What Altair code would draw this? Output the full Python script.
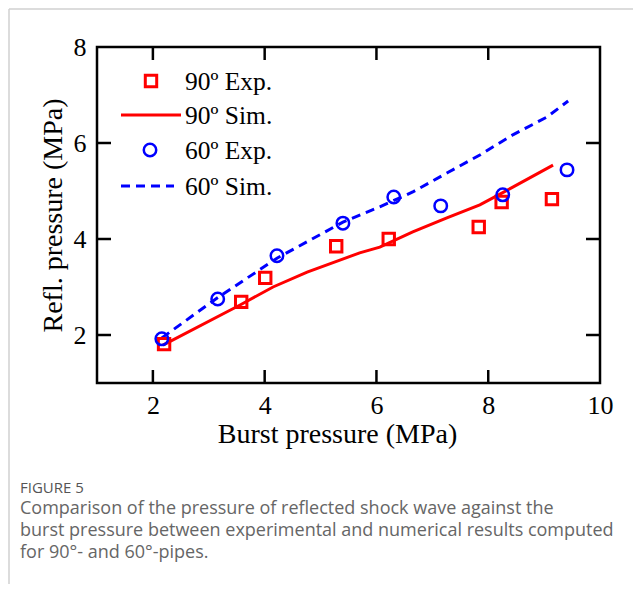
import altair as alt
import pandas as pd

# ---- data ----
exp90_x = [2.20, 3.58, 4.01, 5.28, 6.22, 7.83, 8.24, 9.14]
exp90_y = [1.81, 2.69, 3.19, 3.85, 4.00, 4.25, 4.77, 4.83]
exp60_x = [2.16, 3.16, 4.22, 5.40, 6.31, 7.15, 8.26, 9.41]
exp60_y = [1.92, 2.75, 3.65, 4.33, 4.875, 4.69, 4.92, 5.44]
sim90_x = [2.18, 3.56, 4.15, 4.76, 5.70, 6.06, 6.65, 7.26, 7.85, 8.44, 9.16]
sim90_y = [1.79, 2.625, 3.00, 3.31, 3.71, 3.83, 4.15, 4.44, 4.71, 5.08, 5.54]
sim60_x = [2.16, 3.15, 4.22, 5.40, 6.06, 6.65, 7.26, 7.85, 8.44, 9.05, 9.43]
sim60_y = [1.94, 2.77, 3.60, 4.35, 4.67, 4.98, 5.375, 5.75, 6.17, 6.54, 6.875]

x_ticks = [2, 4, 6, 8, 10]
y_ticks = [2, 4, 6, 8]
x_inner_ticks = [2, 4, 6, 8]
y_inner_ticks = [2, 4, 6]
legend_labels = ["90º Exp.", "90º Sim.", "60º Exp.", "60º Sim."]
x_title = "Burst pressure (MPa)"
y_title = "Refl. pressure (MPa)"
fig_label = "FIGURE 5"
caption = ("Comparison of the pressure of reflected shock wave against the\n"
           "burst pressure between experimental and numerical results computed\n"
           "for 90°- and 60°-pipes.")

W, H = 503, 336
RED = "#ff0000"
BLUE = "#0000ff"
SERIF = "Liberation Serif"
SANS = "Open Sans"

xs = alt.Scale(domain=[1, 10], nice=False, zero=False)
ys = alt.Scale(domain=[1, 8], nice=False, zero=False)

xenc = alt.X("x:Q", scale=xs, axis=alt.Axis(
    values=x_ticks, format="d", title=x_title, domain=False, ticks=False, grid=False,
    labelFont=SERIF, labelFontSize=26, labelColor="black", labelPadding=9,
    labelOverlap=False, labelFlush=False,
    titleFont=SERIF, titleFontSize=28, titleFontWeight="normal", titleColor="black",
    titlePadding=2, titleX=240))
yenc = alt.Y("y:Q", scale=ys, axis=alt.Axis(
    values=y_ticks, format="d", title=y_title, domain=False, ticks=False, grid=False,
    labelFont=SERIF, labelFontSize=26, labelColor="black", labelPadding=11,
    labelOverlap=False, labelFlush=False,
    titleFont=SERIF, titleFontSize=28, titleFontWeight="normal", titleColor="black",
    titlePadding=6))

df90e = pd.DataFrame({"x": exp90_x, "y": exp90_y})
df60e = pd.DataFrame({"x": exp60_x, "y": exp60_y})
df90s = pd.DataFrame({"x": sim90_x, "y": sim90_y})
df60s = pd.DataFrame({"x": sim60_x, "y": sim60_y})

line90 = alt.Chart(df90s).mark_line(color=RED, strokeWidth=3).encode(x=xenc, y=yenc)
line60 = alt.Chart(df60s).mark_line(color=BLUE, strokeWidth=3, strokeDash=[9, 6]).encode(
    x=alt.X("x:Q", scale=xs), y=alt.Y("y:Q", scale=ys))
pts90 = alt.Chart(df90e).mark_point(shape="square", filled=False, color=RED, size=130,
                                    strokeWidth=3, opacity=1).encode(
    x=alt.X("x:Q", scale=xs), y=alt.Y("y:Q", scale=ys))
pts60 = alt.Chart(df60e).mark_point(shape="circle", filled=False, color=BLUE, size=155,
                                    strokeWidth=2.5, opacity=1).encode(
    x=alt.X("x:Q", scale=xs), y=alt.Y("y:Q", scale=ys))

# inward ticks on all four sides
xt = pd.DataFrame({"x": x_inner_ticks})
yt = pd.DataFrame({"y": y_inner_ticks})
tick_style = dict(color="black", strokeWidth=2.5)
tb = alt.Chart(xt).mark_rule(**tick_style).encode(x=alt.X("x:Q", scale=xs), y=alt.value(H), y2=alt.value(H - 13))
tt = alt.Chart(xt).mark_rule(**tick_style).encode(x=alt.X("x:Q", scale=xs), y=alt.value(0), y2=alt.value(13))
tl = alt.Chart(yt).mark_rule(**tick_style).encode(y=alt.Y("y:Q", scale=ys), x=alt.value(0), x2=alt.value(14))
tr = alt.Chart(yt).mark_rule(**tick_style).encode(y=alt.Y("y:Q", scale=ys), x=alt.value(W), x2=alt.value(W - 14))

# legend (drawn manually)
leg_rows = [34, 68, 103, 139]
one = pd.DataFrame({"a": [0]})
leg_sq = alt.Chart(one).mark_point(shape="square", filled=False, color=RED, size=130, strokeWidth=3, opacity=1).encode(
    x=alt.value(54), y=alt.value(leg_rows[0]))
leg_l90 = alt.Chart(one).mark_rule(color=RED, strokeWidth=3).encode(
    x=alt.value(24), x2=alt.value(84), y=alt.value(leg_rows[1]))
leg_ci = alt.Chart(one).mark_point(shape="circle", filled=False, color=BLUE, size=155, strokeWidth=2.5, opacity=1).encode(
    x=alt.value(53), y=alt.value(leg_rows[2]))
leg_l60 = alt.Chart(one).mark_rule(color=BLUE, strokeWidth=3, strokeDash=[9, 6]).encode(
    x=alt.value(24), x2=alt.value(77), y=alt.value(leg_rows[3]))
leg_txt = []
for lab, yy in zip(legend_labels, leg_rows):
    leg_txt.append(alt.Chart(pd.DataFrame({"t": [lab]})).mark_text(
        align="left", baseline="middle", font=SERIF, fontSize=25.5, color="black").encode(
        text="t:N", x=alt.value(88), y=alt.value(yy + 1)))

# caption
cap1 = alt.Chart(pd.DataFrame({"t": [fig_label]})).mark_text(
    align="left", baseline="middle", font=SANS, fontSize=15, color="#555555").encode(
    text="t:N", x=alt.value(-77), y=alt.value(441))
cap2 = alt.Chart(pd.DataFrame({"t": [caption]})).mark_text(
    align="left", baseline="middle", font=SANS, fontSize=18, color="#666666",
    lineBreak="\n", lineHeight=22).encode(
    text="t:N", x=alt.value(-77), y=alt.value(462))

# light outer card border (top and left edges)
bord_l = alt.Chart(one).mark_rule(color="#d0d0d0", strokeWidth=1.5).encode(
    x=alt.value(-88), y=alt.value(-38), y2=alt.value(537))
bord_t = alt.Chart(one).mark_rule(color="#d0d0d0", strokeWidth=1.5).encode(
    y=alt.value(-38), x=alt.value(-88), x2=alt.value(536))

chart = alt.layer(line90, line60, pts90, pts60, tb, tt, tl, tr,
                  leg_sq, leg_l90, leg_ci, leg_l60, *leg_txt, cap1, cap2,
                  bord_l, bord_t).properties(
    width=W, height=H, autosize="none",
    padding={"left": 89, "top": 39, "right": 33, "bottom": 201},
    background="white",
).configure_view(stroke="black", strokeWidth=2.5)

chart.save("out.html", embed_options={"renderer": "svg", "actions": False})
